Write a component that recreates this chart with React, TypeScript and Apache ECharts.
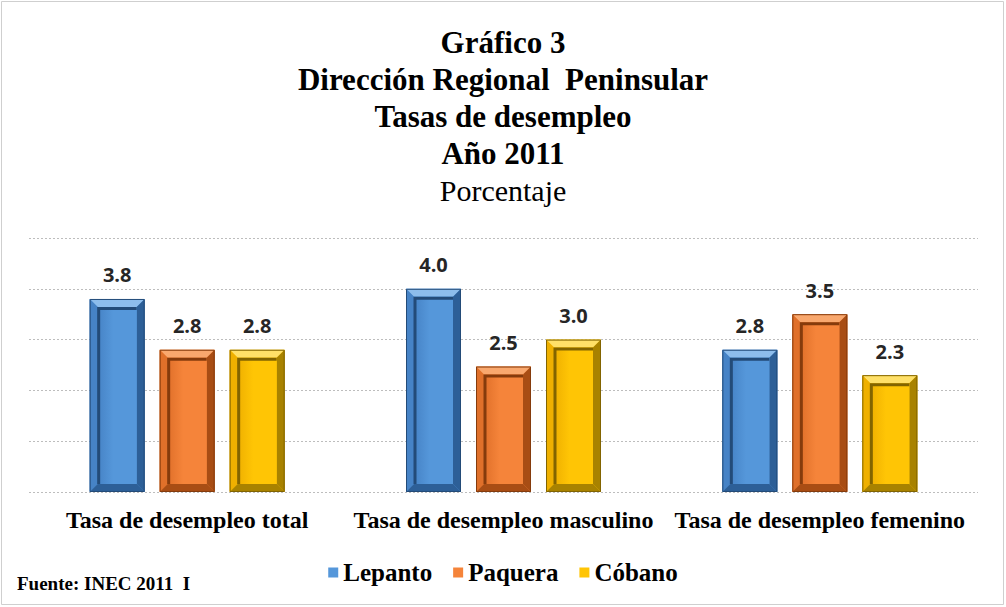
import React, { useEffect, useRef } from "react";
import * as echarts from "echarts";

const categories = [
  "Tasa de desempleo total",
  "Tasa de desempleo masculino",
  "Tasa de desempleo femenino",
];
const seriesNames = ["Lepanto", "Paquera", "Cóbano"];
const lepanto = [3.8, 4.0, 2.8];
const paquera = [2.8, 2.47, 3.5];
const cobano = [2.8, 3.0, 2.3];
const yTicks = [0, 1, 2, 3, 4, 5];

const palettes = [
  { base: "#5597da", light: "#8dbdec", mid: "#4683c6", dark: "#2d5f97", deep: "#234b78" },
  { base: "#f5843a", light: "#f9a86e", mid: "#e0702a", dark: "#a84d14", deep: "#853b0c" },
  { base: "#ffc505", light: "#ffe068", mid: "#efb000", dark: "#a88200", deep: "#826400" },
];
const offsets = [-70, 0, 70];
const BAR_W = 55;

function makeRender(k: number) {
  const p = palettes[k];
  return (params: any, api: any) => {
    const i = api.value(0);
    const v = api.value(1);
    const topPt = api.coord([i, v]);
    const basePt = api.coord([i, 0]);
    const cx = topPt[0] + offsets[k];
    const w = BAR_W;
    const x = cx - w / 2;
    const y = topPt[1];
    const h = basePt[1] - topPt[1];
    const b = Math.min(8, h / 3);
    return {
      type: "group",
      children: [
        { type: "rect", shape: { x, y, width: w, height: h }, style: { fill: p.base } },
        {
          type: "polygon",
          shape: { points: [[x, y], [x + w, y], [x + w - b, y + b], [x + b, y + b]] },
          style: { fill: p.light },
        },
        {
          type: "polygon",
          shape: { points: [[x, y], [x + b, y + b], [x + b, y + h - b], [x, y + h]] },
          style: { fill: p.mid },
        },
        {
          type: "polygon",
          shape: { points: [[x + w, y], [x + w, y + h], [x + w - b, y + h - b], [x + w - b, y + b]] },
          style: { fill: p.dark },
        },
        {
          type: "polygon",
          shape: { points: [[x, y + h], [x + b, y + h - b], [x + w - b, y + h - b], [x + w, y + h]] },
          style: { fill: p.dark },
        },
        {
          type: "rect",
          shape: { x: x + b, y: y + b, width: w - 2 * b, height: h - 2 * b },
          style: {
            fill: new echarts.graphic.LinearGradient(0, 0, 1, 0, [
              { offset: 0, color: p.mid },
              { offset: 0.4, color: p.base },
              { offset: 1, color: p.base },
            ]),
          },
        },
        {
          type: "polyline",
          shape: { points: [[x + b + 1, y + h - b], [x + b + 1, y + b + 1.5], [x + w - b, y + b + 1.5]] },
          style: { stroke: p.deep, lineWidth: 3, fill: "none" },
        },
        {
          type: "rect",
          shape: { x: x + 0.5, y: y + 0.5, width: w - 1, height: h - 1 },
          style: { fill: "none", stroke: p.deep, lineWidth: 1 },
        },
        {
          type: "text",
          x: cx,
          y: y - 14,
          style: {
            text: Number(v).toFixed(1),
            align: "center",
            verticalAlign: "bottom",
            fontFamily: "Open Sans",
            fontWeight: "bold",
            fontSize: 20,
            fill: "#262626",
          },
        },
      ],
    };
  };
}

export default function App() {
  const ref = useRef<HTMLDivElement>(null);
  useEffect(() => {
    if (!ref.current) return;
    const chart = echarts.init(ref.current, null, { renderer: "svg" });
    const values = [lepanto, paquera, cobano];
    chart.setOption({
      animation: false,
      backgroundColor: "#ffffff",
      color: palettes.map((p) => p.base),
      title: [
        {
          text: "Gráfico 3\nDirección Regional  Peninsular\nTasas de desempleo\nAño 2011",
          left: "center",
          top: 19,
          textStyle: {
            fontFamily: "Liberation Serif",
            fontWeight: "bold",
            fontSize: 31,
            lineHeight: 37,
            color: "#000",
          },
        },
        {
          text: "Porcentaje",
          left: "center",
          top: 167,
          textStyle: {
            fontFamily: "Liberation Serif",
            fontWeight: "normal",
            fontSize: 30,
            lineHeight: 36,
            color: "#000",
          },
        },
        {
          text: "Fuente: INEC 2011  I",
          left: 12,
          top: 569,
          textStyle: {
            fontFamily: "Liberation Serif",
            fontWeight: "bold",
            fontSize: 19,
            color: "#000",
          },
        },
      ],
      legend: {
        data: seriesNames,
        left: "center",
        top: 555,
        icon: "rect",
        itemWidth: 10,
        itemHeight: 10,
        itemGap: 21,
        textStyle: {
          fontFamily: "Liberation Serif",
          fontWeight: "bold",
          fontSize: 25,
          color: "#000",
        },
      },
      grid: { left: 29, right: 28, top: 238, bottom: 115 },
      xAxis: {
        type: "category",
        data: categories,
        axisLine: { show: false },
        axisTick: { show: false },
        axisLabel: {
          interval: 0,
          margin: 16,
          fontFamily: "Liberation Serif",
          fontWeight: "bold",
          fontSize: 24,
          color: "#000",
        },
      },
      yAxis: {
        type: "value",
        min: yTicks[0],
        max: yTicks[yTicks.length - 1],
        interval: 1,
        axisLabel: { show: false },
        axisLine: { show: false },
        axisTick: { show: false },
        splitLine: { lineStyle: { color: "#bdbdbd", type: [2, 2], width: 1 } },
      },
      graphic: [
        {
          type: "rect",
          shape: { x: 1.5, y: 1.5, width: 1002, height: 603 },
          style: { fill: "none", stroke: "#cfcfcf", lineWidth: 1 },
          silent: true,
        },
      ],
      series: seriesNames.map((name, k) => ({
        name,
        type: "custom",
        itemStyle: { color: palettes[k].base },
        encode: { x: 0, y: 1 },
        data: values[k].map((v, i) => [i, v]),
        renderItem: makeRender(k),
      })),
    });
    return () => chart.dispose();
  }, []);
  return (
    <div
      ref={ref}
      style={{ position: "fixed", left: 0, top: 0, width: 1006, height: 607, background: "#fff" }}
    />
  );
}
